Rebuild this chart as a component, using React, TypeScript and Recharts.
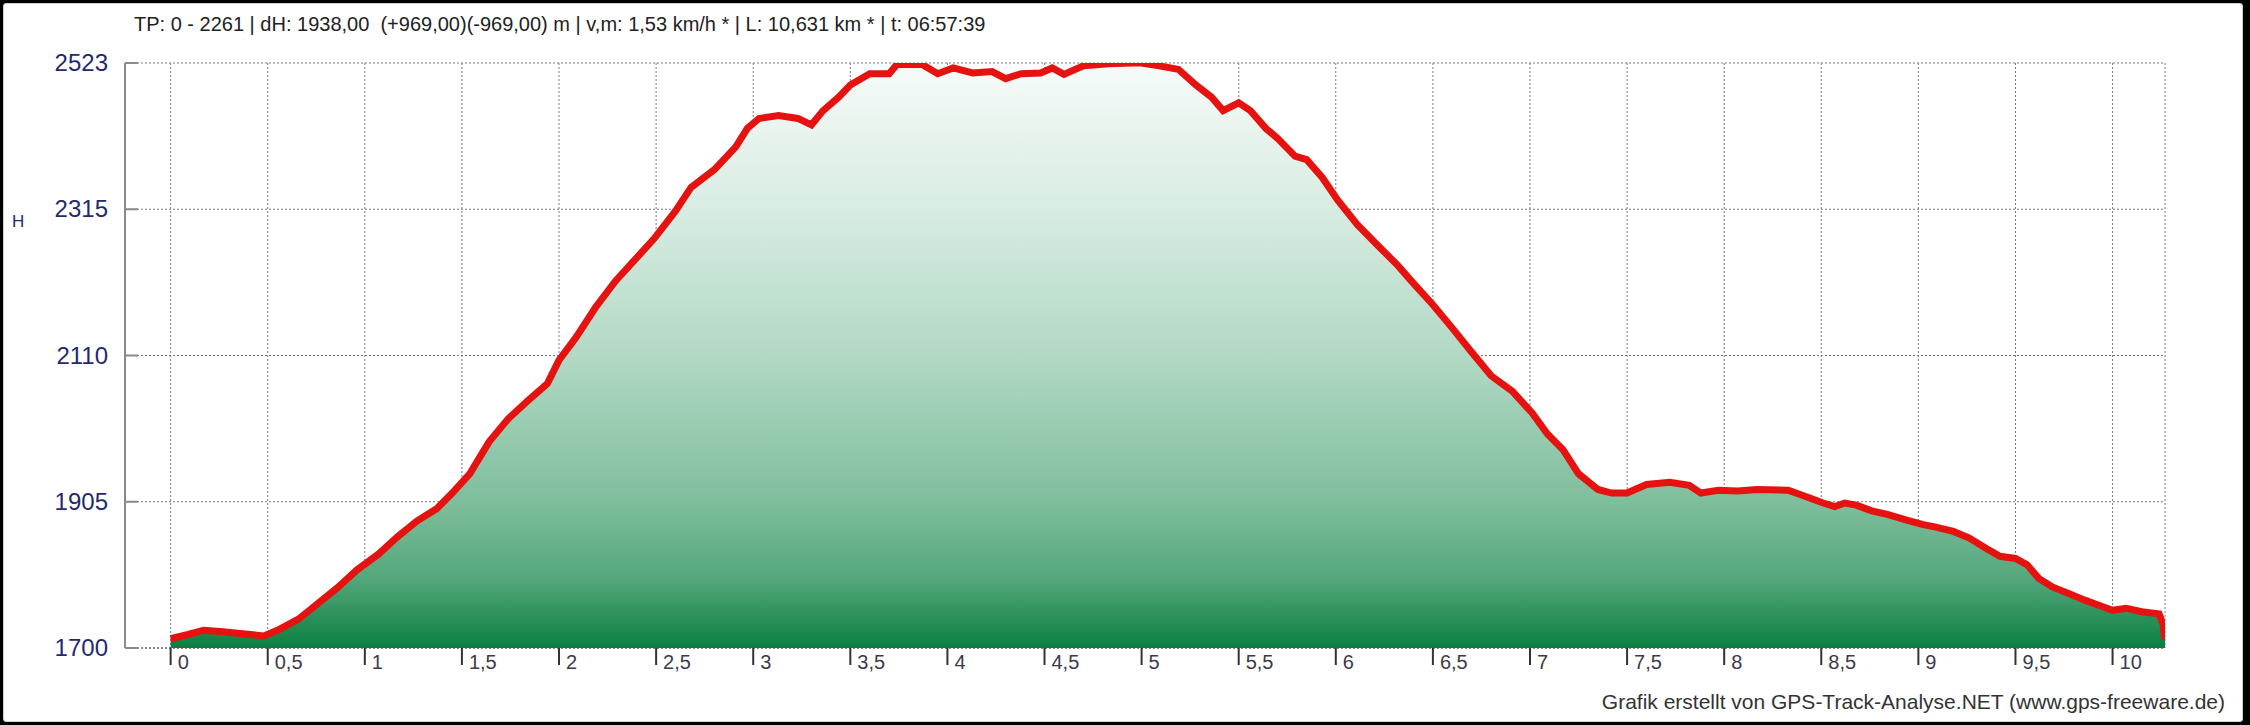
import React from "react";
import { AreaChart, Area, CartesianGrid, XAxis, YAxis } from "recharts";

// track profile (km / m)
const distanceKm = [
  0.0, 0.09, 0.17, 0.27, 0.37, 0.48, 0.55, 0.66, 0.76, 0.86, 0.96, 1.07, 1.17, 1.27,
  1.37, 1.45, 1.54, 1.64, 1.74, 1.84, 1.94, 2.0, 2.09, 2.19, 2.29, 2.39, 2.49, 2.6,
  2.68, 2.8, 2.91, 2.97, 3.03, 3.13, 3.23, 3.3, 3.36, 3.44, 3.5, 3.6, 3.7, 3.74, 3.87,
  3.95, 4.03, 4.13, 4.23, 4.3, 4.38, 4.48, 4.54, 4.6, 4.7, 4.83, 4.95, 5.0, 5.09, 5.19,
  5.28, 5.36, 5.42, 5.5, 5.56, 5.64, 5.7, 5.79, 5.85, 5.93, 6.01, 6.11, 6.21, 6.32,
  6.4, 6.5, 6.6, 6.7, 6.8, 6.91, 7.01, 7.09, 7.17, 7.25, 7.35, 7.42, 7.5, 7.6, 7.72,
  7.82, 7.88, 7.97, 8.07, 8.17, 8.33, 8.43, 8.51, 8.57, 8.62, 8.68, 8.76, 8.84, 8.94,
  9.02, 9.09, 9.18, 9.26, 9.35, 9.42, 9.5, 9.56, 9.62, 9.69, 9.78, 9.86, 9.95, 10.0,
  10.07, 10.15, 10.24, 10.26, 10.27,
];

const elevationM = [
  1713, 1719, 1725, 1723, 1720, 1717, 1725, 1741, 1763, 1785, 1810, 1832, 1857, 1879,
  1896, 1918, 1945, 1990, 2023, 2048, 2072, 2105, 2138, 2180, 2216, 2246, 2276, 2315,
  2348, 2373, 2405, 2431, 2445, 2449, 2445, 2436, 2456, 2475, 2492, 2508, 2508, 2521, 2521,
  2508, 2516, 2509, 2511, 2501, 2508, 2509, 2516, 2507, 2519, 2522, 2523, 2523, 2519, 2514,
  2492, 2475, 2456, 2467, 2456, 2431, 2417, 2392, 2387, 2362, 2330, 2296, 2268, 2238,
  2213, 2183, 2150, 2116, 2083, 2061, 2031, 2001, 1979, 1945, 1923, 1918, 1918, 1930, 1933,
  1929, 1918, 1922, 1921, 1923, 1922, 1912, 1904, 1899, 1904, 1901, 1893, 1888, 1880,
  1874, 1870, 1864, 1855, 1840, 1829, 1826, 1817, 1798, 1786, 1776, 1767, 1758, 1753,
  1756, 1751, 1748, 1733, 1712,
];

const xTicks = [0, 0.5, 1, 1.5, 2, 2.5, 3, 3.5, 4, 4.5, 5, 5.5, 6, 6.5, 7, 7.5, 8, 8.5, 9, 9.5, 10];
const xTickLabels = [
  "0", "0,5", "1", "1,5", "2", "2,5", "3", "3,5", "4", "4,5", "5",
  "5,5", "6", "6,5", "7", "7,5", "8", "8,5", "9", "9,5", "10",
];
const yTicks = [1700, 1905.75, 2111.5, 2317.25, 2523];
const yTickLabels = ["1700", "1905", "2110", "2315", "2523"];

const headerText =
  "TP: 0 - 2261 | dH: 1938,00  (+969,00)(-969,00) m | v,m: 1,53 km/h * | L: 10,631 km * | t: 06:57:39";
const creditText = "Grafik erstellt von GPS-Track-Analyse.NET (www.gps-freeware.de)";

const profile = distanceKm.map((km, i) => ({ km, h: elevationM[i] }));

const FONT = "'Liberation Sans', Arial, sans-serif";

const XTick = (props: any) => {
  const { x, y, payload } = props;
  const i = xTicks.indexOf(payload.value);
  return (
    <g>
      <line x1={x} y1={y} x2={x} y2={y + 17} stroke="#333" strokeWidth={2} />
      <text x={x + 7} y={y + 21} fontSize={20} fill="#3b3b4a" fontFamily={FONT}>
        {xTickLabels[i]}
      </text>
    </g>
  );
};

const YTick = (props: any) => {
  const { x, y, payload } = props;
  const i = yTicks.indexOf(payload.value);
  return (
    <g>
      <line x1={x + 17} y1={y} x2={x + 30} y2={y} stroke="#8a8a8a" strokeWidth={2} />
      <text x={x} y={y + 8} textAnchor="end" fontSize={24} fill="#1f2a6e" fontFamily={FONT}>
        {yTickLabels[i]}
      </text>
    </g>
  );
};

const App: React.FC = () => {
  return (
    <div style={{ position: "absolute", left: 0, top: 0, width: 2250, height: 725, background: "#000" }}>
      <div
        style={{
          position: "absolute",
          left: 3,
          top: 3,
          width: 2238,
          height: 717,
          background: "#fff",
          border: "1px solid #cfcfcf",
          borderRadius: 3,
        }}
      />
      <div
        style={{
          position: "absolute",
          left: 134,
          top: 13,
          fontFamily: FONT,
          fontSize: 20,
          color: "#222",
          whiteSpace: "pre",
        }}
      >
        {headerText}
      </div>
      <div
        style={{
          position: "absolute",
          left: 12,
          top: 212,
          fontFamily: FONT,
          fontSize: 17,
          color: "#1f2a6e",
        }}
      >
        H
      </div>
      <div
        style={{
          position: "absolute",
          right: 25,
          top: 690,
          fontFamily: FONT,
          fontSize: 21,
          color: "#333",
          whiteSpace: "pre",
        }}
      >
        {creditText}
      </div>
      <div style={{ position: "absolute", left: 0, top: 0 }}>
        <AreaChart
          width={2250}
          height={725}
          data={profile}
          margin={{ top: 63, right: 85, bottom: 47, left: 65 }}
        >
          <defs>
            <linearGradient id="elevFill" gradientUnits="userSpaceOnUse" x1="0" y1="63" x2="0" y2="648">
              <stop offset="0%" stopColor="#f6fbf9" />
              <stop offset="25%" stopColor="#d8ece2" />
              <stop offset="50%" stopColor="#b2d9c5" />
              <stop offset="75%" stopColor="#7fbe9c" />
              <stop offset="88%" stopColor="#55a77c" />
              <stop offset="100%" stopColor="#0a7f40" />
            </linearGradient>
          </defs>
          <CartesianGrid stroke="#7a7a7a" strokeDasharray="2 2" />
          <XAxis
            dataKey="km"
            type="number"
            domain={[-0.235, 10.27]}
            allowDataOverflow
            ticks={xTicks}
            interval={0}
            height={30}
            tickSize={0}
            tickMargin={0}
            tickLine={false}
            axisLine={{ stroke: "#555", strokeDasharray: "2 2" }}
            tick={<XTick />}
          />
          <YAxis
            type="number"
            domain={[1700, 2523]}
            allowDataOverflow
            ticks={yTicks}
            interval={0}
            width={60}
            tickSize={0}
            tickMargin={17}
            tickLine={false}
            axisLine={{ stroke: "#8a8a8a", strokeWidth: 2 }}
            tick={<YTick />}
          />
          <Area
            type="linear"
            dataKey="h"
            stroke="#e5120f"
            strokeWidth={7}
            fill="url(#elevFill)"
            fillOpacity={1}
            isAnimationActive={false}
            dot={false}
            activeDot={false}
          />
        </AreaChart>
      </div>
    </div>
  );
};

export default App;
